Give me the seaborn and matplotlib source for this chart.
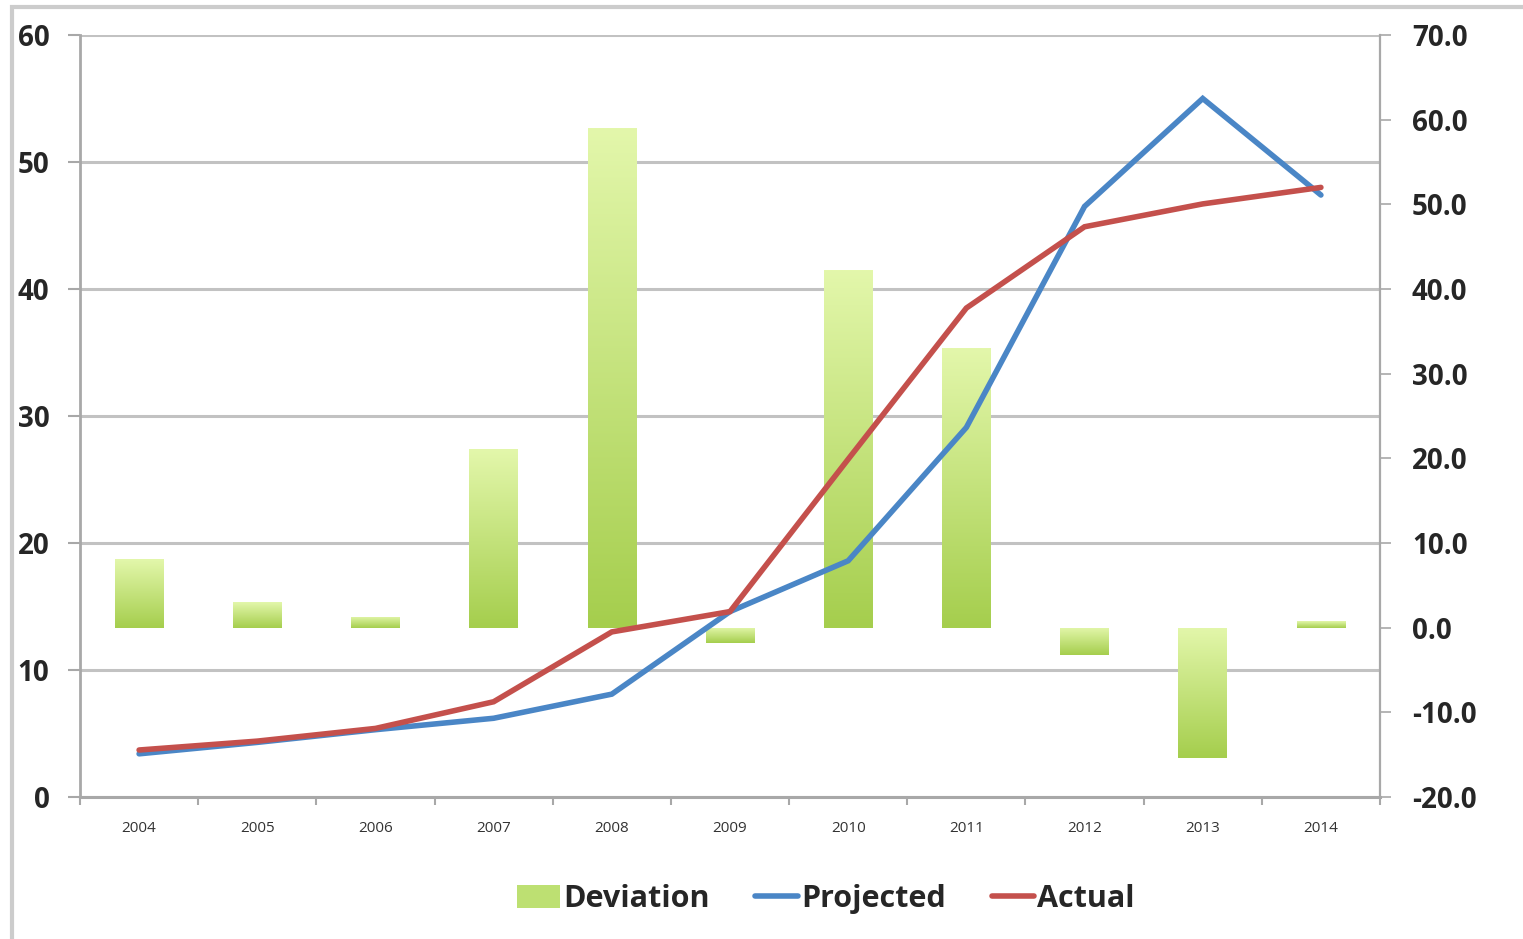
import numpy as np
import pandas as pd
import matplotlib
matplotlib.use("Agg")
import matplotlib.pyplot as plt
import seaborn as sns
from matplotlib.colors import LinearSegmentedColormap
from matplotlib.patches import Patch, Rectangle
from matplotlib.lines import Line2D
from matplotlib.ticker import MultipleLocator, FormatStrFormatter, FixedLocator

# ---- data ----
years = ["2004", "2005", "2006", "2007", "2008", "2009",
         "2010", "2011", "2012", "2013", "2014"]
projected = [3.4, 4.3, 5.3, 6.2, 8.1, 14.6, 18.6, 29.1, 46.5, 55.0, 47.4]
actual = [3.7, 4.4, 5.4, 7.5, 13.0, 14.6, 26.6, 38.5, 44.9, 46.7, 48.0]
deviation = [8.1, 3.0, 1.3, 21.1, 59.0, -1.8, 42.2, 33.0, -3.2, -15.4, 0.8]

df = pd.DataFrame({"Year": years, "pos": np.arange(len(years)),
                   "Projected": projected, "Actual": actual,
                   "Deviation": deviation})

# ---- style ----
sns.set_theme(style="white")
plt.rcParams["font.family"] = ["Open Sans", "DejaVu Sans"]

BLUE = "#4a86c6"
RED = "#c4504c"
GRID = "#c2c2c2"
AXIS = "#a8a8a8"
green_grad = LinearSegmentedColormap.from_list("grad", ["#e3f7ab", "#a5ce4d"])

W, H = 1523, 939
fig = plt.figure(figsize=(W / 100, H / 100), dpi=100)
fig.patch.set_facecolor("white")

# outer frame of the chart area
fig.add_artist(Rectangle((12 / W, -0.05), 1.2, (H - 7) / H + 0.05,
                         transform=fig.transFigure, fill=False,
                         edgecolor="#cccccc", linewidth=3.0, zorder=0))

ax = fig.add_axes([80 / W, 1 - 797 / H, 1300 / W, 762 / H])
ax.set_facecolor("none")
ax_bar = ax.twinx()
ax_line = ax.twinx()

# ---- deviation bars (right axis) with a vertical gradient ----
sns.barplot(data=df, x="Year", y="Deviation", ax=ax_bar, width=0.41,
            color="#bde072", saturation=1, linewidth=0)
grad = np.linspace(0, 1, 256).reshape(-1, 1)
for p in list(ax_bar.patches):
    x0, w = p.get_x(), p.get_width()
    y0, h = p.get_y(), p.get_height()
    lo, hi = min(y0, y0 + h), max(y0, y0 + h)
    im = ax_bar.imshow(grad, cmap=green_grad, aspect="auto", origin="upper",
                       extent=[x0, x0 + w, lo, hi], zorder=2,
                       interpolation="bilinear")
    im.set_clip_path(p)
    p.set_facecolor("none")
    p.set_edgecolor("none")

# ---- projected / actual lines (left scale) ----
sns.lineplot(data=df, x="pos", y="Projected", ax=ax_line, color=BLUE,
             linewidth=4.0, solid_joinstyle="miter")
sns.lineplot(data=df, x="pos", y="Actual", ax=ax_line, color=RED,
             linewidth=4.0, solid_joinstyle="miter")

# ---- axes limits & ticks ----
ax.set_xlim(-0.5, len(years) - 0.5)
ax.set_ylim(0, 60)
ax_line.set_ylim(0, 60)
ax_bar.set_ylim(-20, 70)

for a in (ax, ax_bar, ax_line):
    a.set_xlabel("")
    a.set_ylabel("")

ax.yaxis.set_major_locator(MultipleLocator(10))
ax.grid(axis="y", color=GRID, linewidth=2.2)
ax.grid(axis="x", visible=False)
ax.set_axisbelow(True)

ax.xaxis.set_major_locator(FixedLocator(np.arange(len(years))))
ax.set_xticklabels(years)
ax.xaxis.set_minor_locator(FixedLocator(np.arange(-0.5, len(years), 1.0)))
ax.tick_params(axis="x", which="major", length=0, pad=17,
               labelsize=11, labelcolor="#333333")
ax.tick_params(axis="x", which="minor", length=6, width=1.5,
               color=AXIS, direction="out", bottom=True)
ax.tick_params(axis="y", which="major", length=9, width=1.5, color=AXIS,
               direction="out", pad=13, labelsize=20, left=True)
for lab in ax.get_yticklabels():
    lab.set_fontweight("bold")

ax_bar.yaxis.set_major_locator(MultipleLocator(10))
ax_bar.yaxis.set_major_formatter(FormatStrFormatter("%.1f"))
ax_bar.tick_params(axis="y", which="major", length=8, width=1.2, color=AXIS,
                   direction="out", pad=15, labelsize=20, right=True)
for lab in ax_bar.get_yticklabels():
    lab.set_fontweight("bold")

ax_line.yaxis.set_visible(False)

for a in (ax, ax_bar, ax_line):
    for s in a.spines.values():
        s.set_visible(False)
ax.spines["left"].set_visible(True)
ax.spines["left"].set_color(AXIS)
ax.spines["left"].set_linewidth(2.0)
ax.spines["bottom"].set_visible(True)
ax.spines["bottom"].set_color(AXIS)
ax.spines["bottom"].set_linewidth(2.2)
ax_bar.spines["right"].set_visible(True)
ax_bar.spines["right"].set_color(AXIS)
ax_bar.spines["right"].set_linewidth(1.6)

# ---- legend ----
handles = [Patch(facecolor="#bde072", edgecolor="none"),
           Line2D([0], [0], color=BLUE, linewidth=4),
           Line2D([0], [0], color=RED, linewidth=4)]
fig.legend(handles, ["Deviation", "Projected", "Actual"],
           loc="center", bbox_to_anchor=(826 / W, 1 - 899 / H), ncol=3,
           frameon=False, handlelength=1.4, handleheight=0.75,
           handletextpad=0.1, columnspacing=1.5,
           prop={"weight": "bold", "size": 22})

fig.savefig("out.png", dpi=100)
